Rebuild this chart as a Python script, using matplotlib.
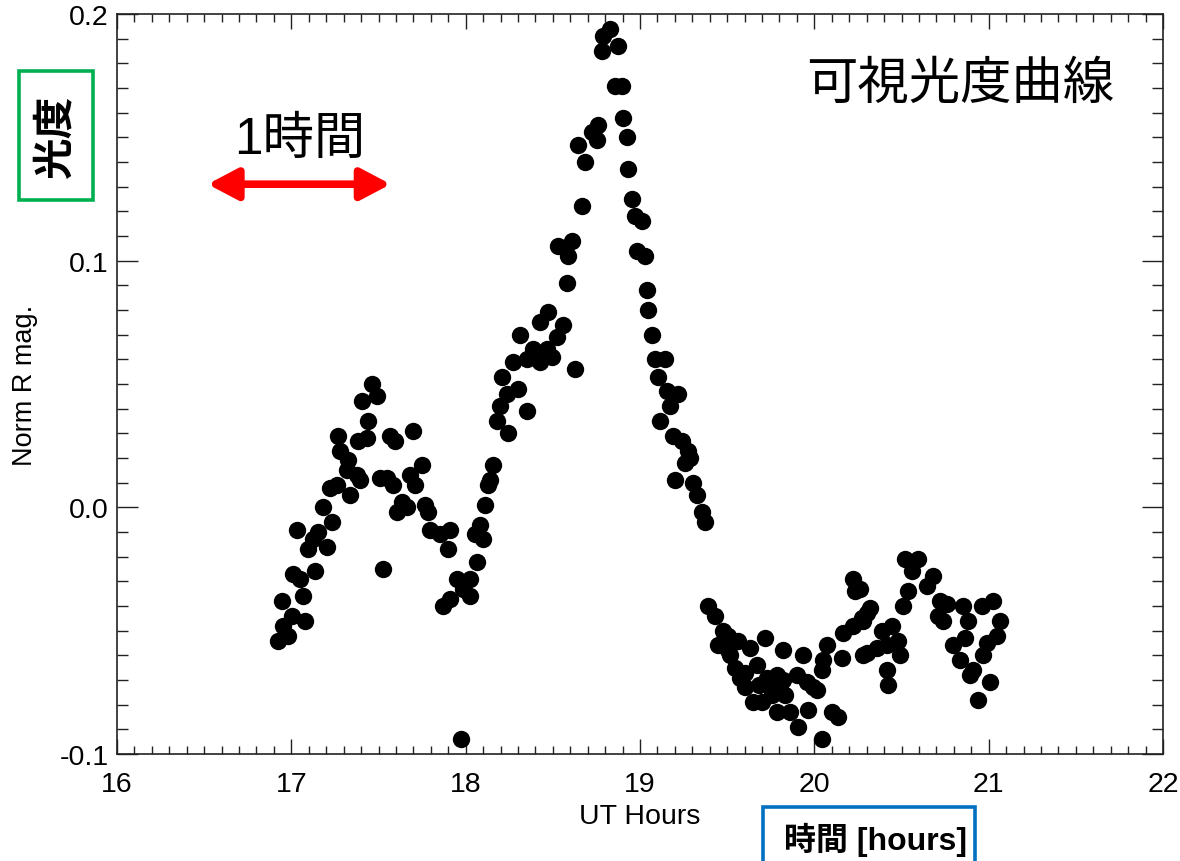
import matplotlib
matplotlib.use("Agg")
import matplotlib.pyplot as plt
from matplotlib.ticker import MultipleLocator, FuncFormatter
from matplotlib.patches import Rectangle

plt.rcParams['font.family'] = ['Liberation Sans', 'Noto Sans CJK JP', 'DejaVu Sans']
plt.rcParams['axes.unicode_minus'] = False

# ---- data (UT hours, normalized R magnitude) ----
ut_hours = [
    16.924, 16.981, 16.952, 17.004, 17.079, 16.947, 17.067, 17.010, 17.050, 17.136,
    17.033, 17.096, 17.125, 17.153, 17.205, 17.234, 17.182, 17.222, 17.262, 17.337,
    17.320, 17.377, 17.394, 17.325, 17.279, 17.268, 17.383, 17.434, 17.440, 17.406,
    17.463, 17.492, 17.526, 17.509, 17.549, 17.583, 17.566, 17.595, 17.698, 17.635,
    17.664, 17.606, 17.681, 17.710, 17.750, 17.767, 17.784, 17.796, 17.853, 17.911,
    17.899, 17.951, 17.870, 17.911, 17.974, 17.985, 18.025, 18.025, 18.065, 18.083,
    18.054, 18.100, 18.111, 18.129, 18.140, 18.157, 18.243, 18.180, 18.197, 18.238,
    18.301, 18.352, 18.209, 18.272, 18.352, 18.427, 18.496, 18.312, 18.427, 18.473,
    18.559, 18.524, 18.628, 18.582, 18.530, 18.610, 18.588, 18.387, 18.467,
    18.668, 18.685, 18.645, 18.725, 18.754, 18.760, 18.783, 18.788, 18.828, 18.874,
    18.857, 18.897, 18.903, 18.926, 18.932, 18.955, 18.972, 19.012, 18.983, 19.029,
    19.041, 19.046, 19.069, 19.087, 19.144, 19.104, 19.156, 19.219, 19.173, 19.115,
    19.190, 19.242, 19.276, 19.287, 19.259, 19.201, 19.305, 19.328, 19.356, 19.373,
    19.391, 19.431, 19.477, 19.505, 19.448, 19.505, 19.563, 19.632, 19.718, 19.517,
    19.546, 19.672, 19.821, 19.936, 20.073, 20.165, 20.223, 20.280, 20.303, 20.234,
    20.280, 20.050, 20.045, 20.159, 19.574, 19.603, 19.729, 19.787, 19.821, 19.901,
    19.959, 19.993, 19.746, 19.804, 20.016, 19.649, 19.701, 19.787, 19.861, 19.964,
    20.102, 20.137, 19.907, 20.045, 19.832, 19.600, 19.680, 19.760,
    20.521, 20.596, 20.561, 20.682, 20.647, 20.538, 20.509, 20.223, 20.263, 20.320,
    20.274, 20.446, 20.389, 20.722, 20.762, 20.710, 20.739, 20.854, 20.882, 20.963,
    21.026, 21.066, 21.049, 20.991, 20.796, 20.865, 20.303, 20.360, 20.418, 20.481,
    20.492, 20.836, 20.968, 20.911, 20.894, 20.418, 20.423, 21.009, 20.940,
]
norm_r_mag = [
    -0.054, -0.052, -0.048, -0.044, -0.046, -0.038, -0.036, -0.027, -0.029, -0.026,
    -0.009, -0.017, -0.013, -0.010, -0.016, -0.006, 0.000, 0.008, 0.009, 0.005,
    0.015, 0.013, 0.011, 0.019, 0.023, 0.029, 0.027, 0.028, 0.035, 0.043,
    0.050, 0.045, -0.025, 0.012, 0.012, 0.009, 0.029, 0.027, 0.031, 0.002,
    0.000, -0.002, 0.013, 0.009, 0.017, 0.001, -0.002, -0.009, -0.011, -0.009,
    -0.017, -0.029, -0.040, -0.037, -0.094, -0.033, -0.036, -0.029, -0.022, -0.007,
    -0.011, -0.013, 0.001, 0.009, 0.011, 0.017, 0.030, 0.035, 0.041, 0.046,
    0.048, 0.039, 0.053, 0.059, 0.060, 0.059, 0.061, 0.070, 0.075, 0.079,
    0.074, 0.069, 0.056, 0.091, 0.106, 0.108, 0.102, 0.064, 0.064,
    0.122, 0.140, 0.147, 0.152, 0.149, 0.155, 0.185, 0.191, 0.194, 0.187,
    0.171, 0.171, 0.158, 0.150, 0.137, 0.125, 0.118, 0.116, 0.104, 0.102,
    0.088, 0.080, 0.070, 0.060, 0.060, 0.053, 0.047, 0.046, 0.041, 0.035,
    0.029, 0.027, 0.023, 0.020, 0.018, 0.011, 0.010, 0.005, -0.002, -0.006,
    -0.040, -0.044, -0.050, -0.052, -0.056, -0.058, -0.054, -0.057, -0.053, -0.060,
    -0.065, -0.064, -0.058, -0.060, -0.056, -0.051, -0.048, -0.046, -0.043, -0.034,
    -0.060, -0.062, -0.066, -0.061, -0.069, -0.073, -0.069, -0.068, -0.070, -0.068,
    -0.071, -0.073, -0.073, -0.072, -0.074, -0.079, -0.079, -0.083, -0.083, -0.082,
    -0.083, -0.085, -0.089, -0.094, -0.076, -0.067, -0.072, -0.076,
    -0.021, -0.021, -0.026, -0.028, -0.032, -0.034, -0.040, -0.029, -0.033, -0.041,
    -0.045, -0.048, -0.050, -0.038, -0.039, -0.044, -0.046, -0.040, -0.046, -0.040,
    -0.038, -0.046, -0.052, -0.055, -0.056, -0.053, -0.059, -0.057, -0.056, -0.054,
    -0.060, -0.062, -0.060, -0.066, -0.068, -0.066, -0.072, -0.071, -0.078,
]

x_ticks = [16, 17, 18, 19, 20, 21, 22]
y_ticks = [-0.1, 0.0, 0.1, 0.2]
arrow_span = [16.52, 17.57]   # one hour marker
arrow_level = 0.131

W, H = 1180, 862
fig = plt.figure(figsize=(W / 100, H / 100), dpi=100)
ax = fig.add_axes([117 / W, 1 - 755 / H, (1163 - 117) / W, (755 - 15) / H])

ax.plot(ut_hours, norm_r_mag, 'o', color='black', ms=12.5, mew=0)

ax.set_xlim(16, 22)
ax.set_ylim(-0.1, 0.2)
ax.set_xticks(x_ticks)
ax.set_yticks(y_ticks)
ax.xaxis.set_minor_locator(MultipleLocator(0.1))
ax.yaxis.set_minor_locator(MultipleLocator(0.01))
ax.yaxis.set_major_formatter(FuncFormatter(lambda v, p: f"{v:.1f}"))
ax.xaxis.set_major_formatter(FuncFormatter(lambda v, p: f"{int(round(v))}"))

ax.tick_params(axis='both', which='both', direction='in', top=True, right=True,
               color='#222222', width=1.0, labelsize=20.5)
ax.tick_params(axis='x', which='major', length=11, pad=12)
ax.tick_params(axis='x', which='minor', length=5.5)
ax.tick_params(axis='y', which='major', length=15, pad=6)
ax.tick_params(axis='y', which='minor', length=8)
for s in ax.spines.values():
    s.set_linewidth(1.2)
    s.set_color('#222222')

ax.set_xlabel('UT Hours', fontsize=20.5)
ax.set_ylabel('Norm R mag.', fontsize=19.5)
ax.xaxis.label.set_va('center')
ax.yaxis.label.set_va('center')
ax.xaxis.set_label_coords(0.5, (755 - 817) / 740)
ax.yaxis.set_label_coords((25 - 117) / 1046, 0.5)

# annotations
ax.text((960 - 117) / 1046, (755 - 85) / 740, '可視光度曲線', transform=ax.transAxes,
        ha='center', va='center', fontsize=37,
        family=['Liberation Sans', 'Noto Sans CJK JP'])
ax.text((300 - 117) / 1046, (755 - 140) / 740, '1時間', transform=ax.transAxes,
        ha='center', va='center', fontsize=37,
        family=['Liberation Sans', 'Noto Sans CJK JP'])
ax.annotate('', xy=(arrow_span[0], arrow_level), xytext=(arrow_span[1], arrow_level),
            xycoords='data', textcoords='data',
            arrowprops=dict(arrowstyle='<|-|>,head_length=1.8,head_width=0.95',
                            color='#ff0000', lw=5.5, shrinkA=0, shrinkB=0))

# green box with 光度
fig.patches.append(Rectangle((19 / W, 1 - 201 / H), 74 / W, 129 / H, transform=fig.transFigure,
                             fill=False, edgecolor='#00b050', lw=2.6))
fig.text(56 / W, 1 - 137 / H, '光度', rotation=90, ha='center', va='center',
         fontsize=30, fontweight='bold', family=['Noto Sans CJK JP', 'Liberation Sans'])

# blue box with 時間 [hours]
fig.patches.append(Rectangle((763 / W, 1 - 880 / H), 212 / W, 72 / H, transform=fig.transFigure,
                             fill=False, edgecolor='#0070c0', lw=2.6, clip_on=False))
fig.text(876 / W, 1 - 840 / H, '時間 [hours]', ha='center', va='center',
         fontsize=23, fontweight='bold', family=['Liberation Sans', 'Noto Sans CJK JP'])

fig.savefig('out.png', dpi=100)
